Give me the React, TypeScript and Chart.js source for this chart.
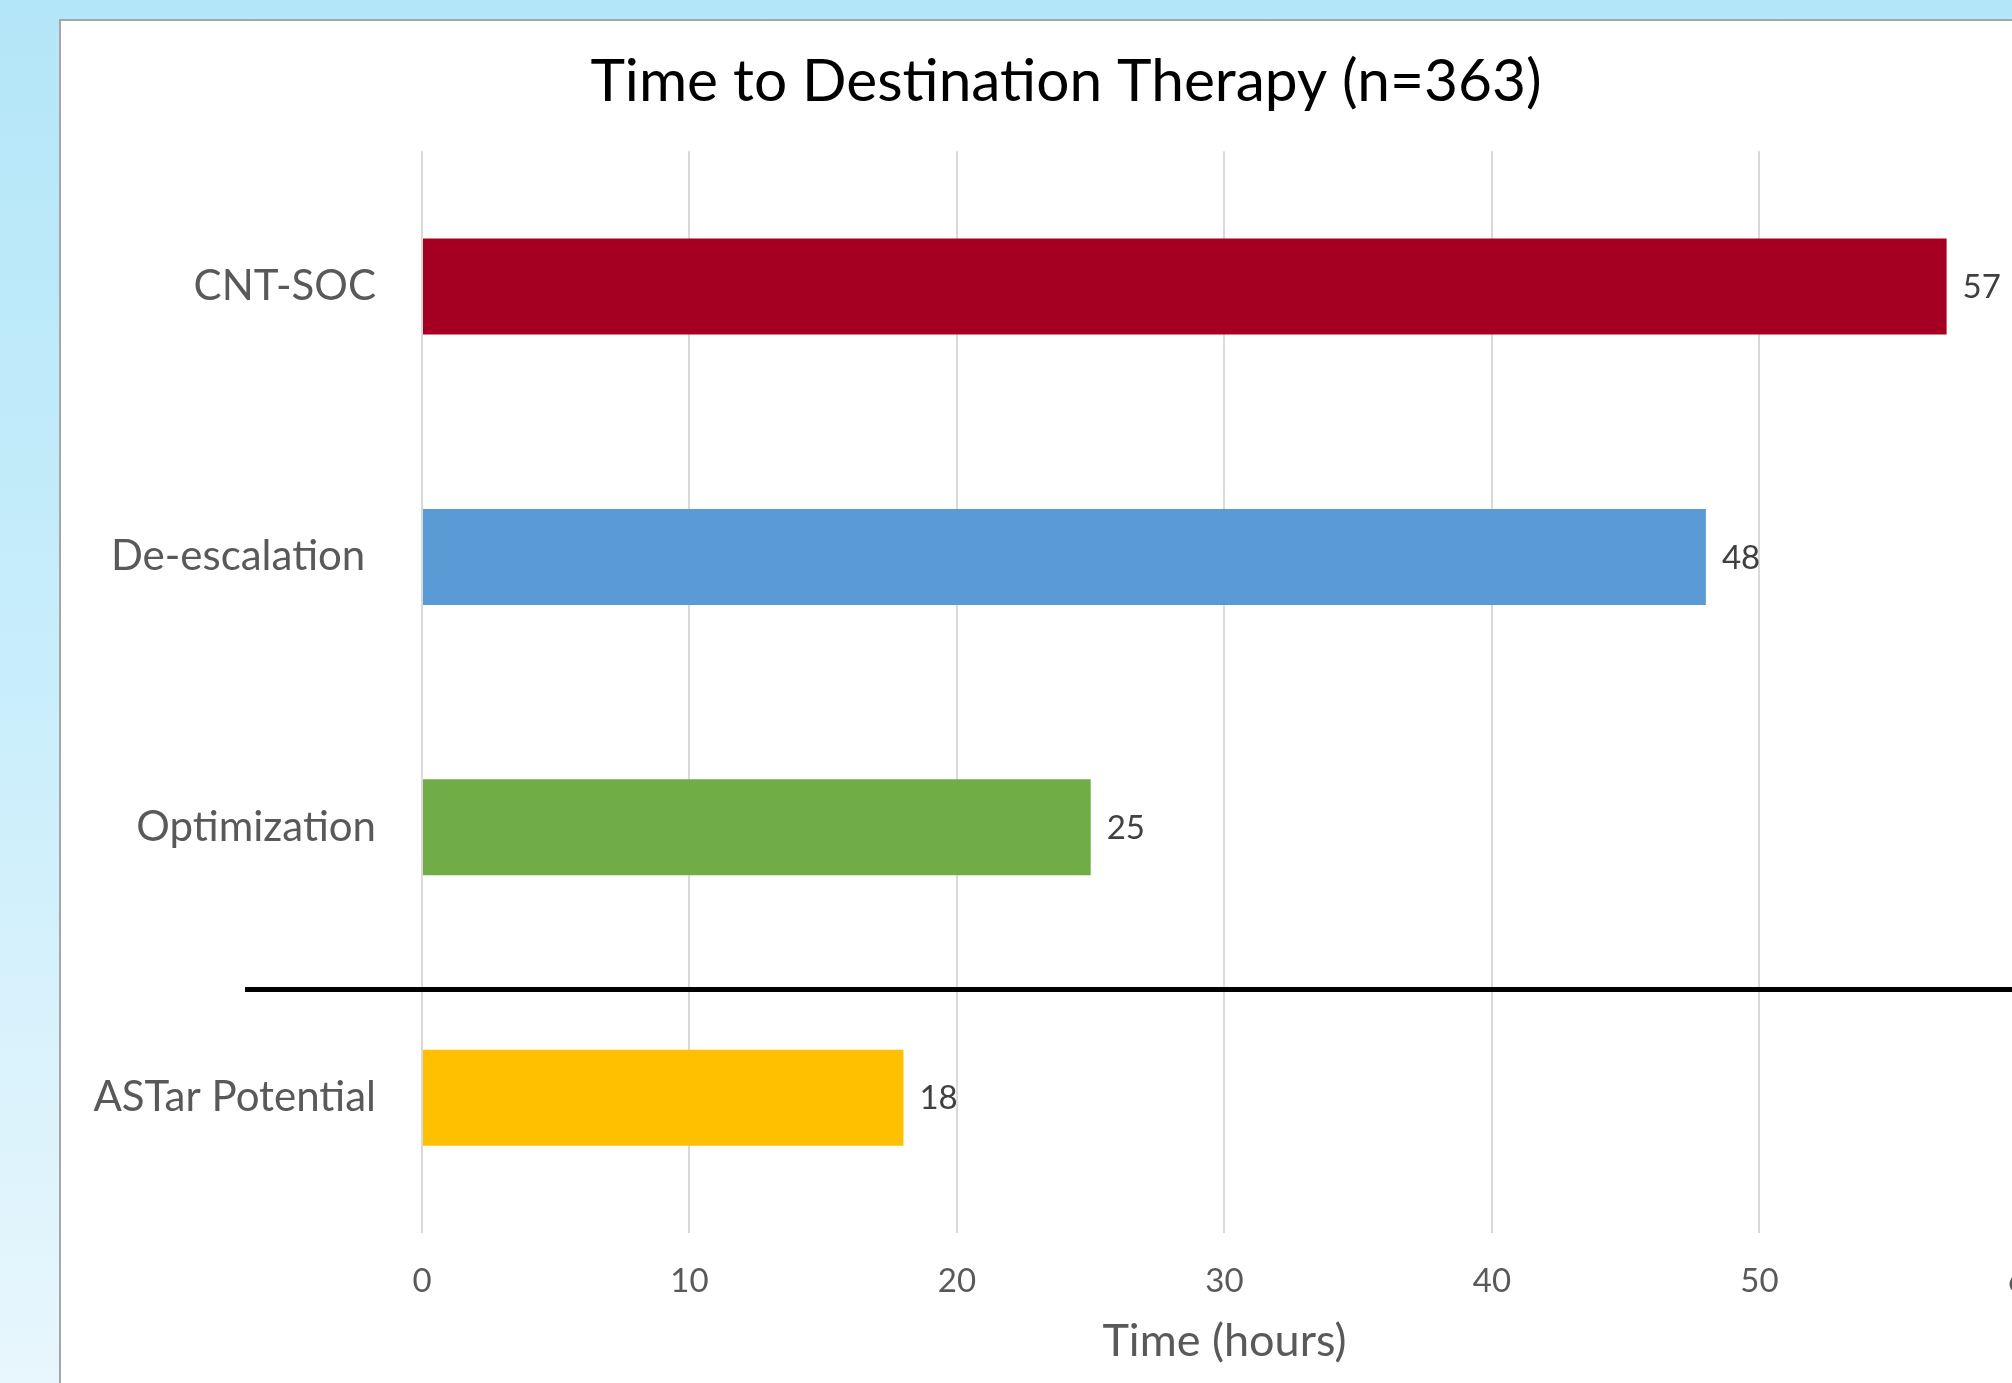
import React, { useEffect, useRef } from "react";
import { Chart, registerables } from "chart.js";

Chart.register(...registerables);

const chartTitle = "Time to Destination Therapy (n=363)";
const axisTitle = "Time (hours)";
const categories = ["CNT-SOC", "De-escalation ", "Optimization", "ASTar Potential"];
const hours = [57, 48, 25, 18];
const barColors = ["#A50021", "#5B9BD5", "#70AD47", "#FFC000"];
const xMin = 0;
const xMax = 60;
const xStep = 10;
const separatorPosition = 2.6;

const FONT = "Lato, Carlito, Calibri, 'Open Sans', sans-serif";

const valueLabels = {
  id: "valueLabels",
  afterDatasetsDraw(chart: any) {
    const ctx = chart.ctx;
    const meta = chart.getDatasetMeta(0);
    ctx.save();
    ctx.font = `33px ${FONT}`;
    ctx.fillStyle = "#404040";
    ctx.textBaseline = "middle";
    ctx.textAlign = "left";
    meta.data.forEach((bar: any, i: number) => {
      ctx.fillText(String(hours[i]), bar.x + 16, bar.y + 1);
    });
    ctx.restore();
  },
};

const separator = {
  id: "separator",
  afterDraw(chart: any) {
    const ctx = chart.ctx;
    const y = chart.scales.y.getPixelForValue(separatorPosition);
    ctx.save();
    ctx.strokeStyle = "#000000";
    ctx.lineWidth = 5;
    ctx.beginPath();
    ctx.moveTo(chart.chartArea.left - 177, y);
    ctx.lineTo(chart.width, y);
    ctx.stroke();
    ctx.restore();
  },
};

function BarChart() {
  const ref = useRef<HTMLCanvasElement | null>(null);
  useEffect(() => {
    if (!ref.current) return;
    const chart = new Chart(ref.current, {
      type: "bar",
      data: {
        labels: categories,
        datasets: [
          {
            data: hours,
            backgroundColor: barColors,
            borderWidth: 0,
            barPercentage: 0.355,
            categoryPercentage: 1,
          },
        ],
      },
      plugins: [valueLabels, separator],
      options: {
        indexAxis: "y",
        animation: false,
        responsive: false,
        devicePixelRatio: 1,
        layout: { padding: { left: 10, right: 14, top: 0, bottom: 0 } },
        plugins: {
          legend: { display: false },
          tooltip: { enabled: false },
          title: {
            display: true,
            text: chartTitle,
            color: "#000000",
            font: { family: FONT, size: 58.6, weight: "normal" },
            padding: { top: 26, bottom: 34 },
          },
        },
        scales: {
          x: {
            type: "linear",
            min: xMin,
            max: xMax,
            ticks: {
              stepSize: xStep,
              color: "#595959",
              font: { family: FONT, size: 33 },
              padding: 29,
              maxRotation: 0,
            },
            grid: { color: "#D9D9D9", lineWidth: 2, drawTicks: false },
            border: { display: false },
            title: {
              display: true,
              text: axisTitle,
              color: "#595959",
              font: { family: FONT, size: 45 },
              padding: { top: 9, bottom: 33 },
            },
            afterFit(scale: any) {
              scale.height = 168;
            },
          },
          y: {
            type: "category",
            ticks: {
              color: "#595959",
              font: { family: FONT, size: 42 },
              padding: 46,
            },
            grid: { display: false, drawTicks: false },
            border: { display: false },
            afterFit(scale: any) {
              scale.width = 351;
            },
          },
        },
      },
    } as any);
    return () => chart.destroy();
  }, []);
  return (
    <canvas
      ref={ref}
      width={2014}
      height={1380}
      style={{ width: 2014, height: 1380, display: "block" }}
    />
  );
}

export default function App() {
  return (
    <div
      style={{
        position: "fixed",
        left: 0,
        top: 0,
        width: 2012,
        height: 1383,
        overflow: "hidden",
        background: "linear-gradient(to bottom, #B3E6F8 0%, #C9EEFB 50%, #E8F6FD 100%)",
      }}
    >
      <div
        style={{
          position: "absolute",
          left: 59,
          top: 19,
          width: 2100,
          height: 1450,
          background: "#FFFFFF",
          borderLeft: "2px solid #A6A6A6",
          borderTop: "2px solid #A6A6A6",
        }}
      >
        <BarChart />
      </div>
    </div>
  );
}
